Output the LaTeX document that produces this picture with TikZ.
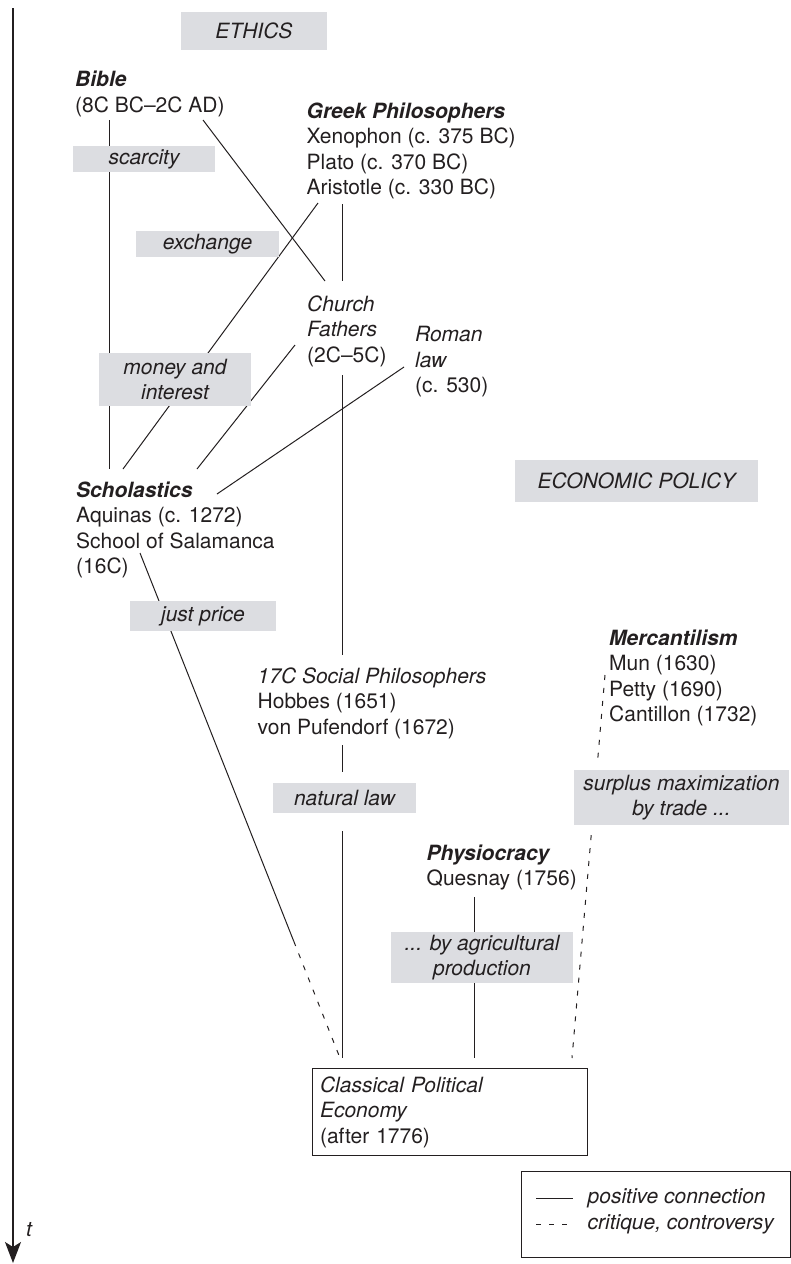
\documentclass[tikz,border=0pt]{standalone}
\usepackage{fontspec}
\setmainfont{TeX Gyre Heros}
\usetikzlibrary{arrows.meta,calc}
\definecolor{ink}{HTML}{231F20}
\definecolor{panel}{HTML}{DCDDE1}
% a block of left-aligned lines whose base is the first line's baseline
\newcommand\block[1]{\begin{tabular}[t]{@{}l@{}}#1\end{tabular}}
\newcommand\head[1]{\textbf{\textit{#1}}}
\begin{document}
\begin{tikzpicture}[x=1pt, y=-1pt,
  txt/.style={anchor=base west, inner sep=0, text=ink, font=\fontsize{21}{25.5}\selectfont},
  tag/.style={fill=panel, inner sep=0, align=center, text=ink, font=\fontsize{21}{25.5}\selectfont\itshape},
  link/.style={draw=ink, line width=1pt},
  crit/.style={link, dash pattern=on 5pt off 8pt},
  timeaxis/.style={draw=ink, line width=1.2pt, -{Stealth[length=21pt, width=16pt, inset=5pt]}}]
\useasboundingbox (0,0) rectangle (791,1264);

% ---- time axis
\coordinate (axtop) at (13,8);
\coordinate (axbot) at (13,1263);
\draw[timeaxis] (axtop) -- (axbot);
\node[txt] (tlabel) at (26,1236) {\textit{t}};

% ---- schools and authors
\node[txt] (bible) at (75,86.5) {\block{\head{Bible}\\(8C BC--2C AD)}};
\node[txt] (greek) at (306.5,118) {\block{\head{Greek Philosophers}\\Xenophon (c. 375 BC)\\Plato (c. 370 BC)\\Aristotle (c. 330 BC)}};
\node[txt] (church) at (307,311) {\block{\textit{Church}\\\textit{Fathers}\\(2C--5C)}};
\node[txt] (roman) at (415,341.5) {\block{\textit{Roman}\\\textit{law}\\(c. 530)}};
\node[txt] (schol) at (76,497) {\block{\head{Scholastics}\\Aquinas (c. 1272)\\School of Salamanca\\(16C)}};
\node[txt] (social) at (257.5,683) {\block{\textit{17C Social Philosophers}\\Hobbes (1651)\\von Pufendorf (1672)}};
\node[txt] (merc) at (609,645) {\block{\head{Mercantilism}\\Mun (1630)\\Petty (1690)\\Cantillon (1732)}};
\node[txt] (phys) at (426.5,860) {\block{\head{Physiocracy}\\Quesnay (1756)}};
\node[draw=ink, line width=1.1pt, anchor=north west, inner sep=0,
      minimum width=275, minimum height=87, text width=260, align=left,
      text=ink, font=\fontsize{21}{25.5}\selectfont] (classic) at (312,1068)
  {\textit{Classical Political}\\\textit{Economy}\\(after 1776)};

% ---- connector end points
\coordinate (bibleA) at (109,120);   \coordinate (scholA) at (109,469);
\coordinate (bibleB) at (203,120);   \coordinate (churchA) at (325,281);
\coordinate (aristA) at (318,203);   \coordinate (scholB) at (123,469);
\coordinate (greekA) at (342,204);   \coordinate (churchB) at (342,281);
\coordinate (churchC) at (295,345);  \coordinate (scholC) at (197,469);
\coordinate (romanA) at (404,367);   \coordinate (scholD) at (217,494);
\coordinate (churchD) at (342,375);  \coordinate (socialA) at (342,655);
\coordinate (scholE) at (140,553);   \coordinate (classA) at (340,1058);
\coordinate (socialB) at (342,745);  \coordinate (natA) at (342,772);
\coordinate (natB) at (342,831);     \coordinate (classB) at (342,1058);
\coordinate (physA) at (474.5,897);  \coordinate (classC) at (474.5,1058);
\coordinate (mercA) at (605,675);    \coordinate (classD) at (572,1058);
\coordinate (priceBreak) at ($(scholE)!0.769!(classA)$);
\coordinate (surplusA) at ($(mercA)!0.222!(classD)$);
\coordinate (surplusB) at ($(mercA)!0.418!(classD)$);

% ---- connectors
\draw[link] (bibleA) -- (scholA);
\draw[link] (bibleB) -- (churchA);
\draw[link] (aristA) -- (scholB);
\draw[link] (greekA) -- (churchB);
\draw[link] (churchC) -- (scholC);
\draw[link] (romanA) -- (scholD);
\draw[link] (churchD) -- (socialA);
\draw[link] (scholE) -- (priceBreak);
\draw[crit] (priceBreak) -- (classA);
\draw[link] (socialB) -- (natA);
\draw[link] (natB) -- (classB);
\draw[link] (physA) -- (classC);
\draw[crit] (mercA) -- (surplusA);
\draw[crit] (surplusB) -- (classD);

% ---- shaded topic labels
\node[tag, minimum width=146, minimum height=38] (ethics) at (254,31) {ETHICS};
\node[tag, minimum width=142, minimum height=26] (scarcity) at (144,159) {scarcity};
\node[tag, minimum width=143, minimum height=26] (exchange) at (207.5,243.7) {exchange};
\node[tag, minimum width=152, minimum height=53] (money) at (175,379.5) {money and\\interest};
\node[tag, minimum width=243, minimum height=42] (policy) at (636.5,481) {ECONOMIC POLICY};
\node[tag, minimum width=146, minimum height=30] (price) at (203,616) {just price};
\node[tag, minimum width=143, minimum height=30] (natlaw) at (344.5,798) {natural law};
\node[tag, minimum width=215, minimum height=55] (surplus) at (681.5,797.5) {surplus maximization\\by trade ...};
\node[tag, minimum width=182, minimum height=51] (agri) at (482,957.5) {... by agricultural\\production};

% ---- legend
\node[draw=ink, line width=1.1pt, anchor=north west, inner sep=0,
      minimum width=269, minimum height=86] (legend) at (521,1171) {};
\coordinate (keyA) at (536,1198);  \coordinate (keyB) at (573,1198);
\coordinate (keyC) at (536,1224);  \coordinate (keyD) at (573,1224);
\draw[link] (keyA) -- (keyB);
\draw[link, dash pattern=on 5pt off 8pt] (keyC) -- (keyD);
\node[txt] (keypos) at (587.5,1203.5) {\textit{positive connection}};
\node[txt] (keycrit) at (587.5,1229) {\textit{critique, controversy}};
\end{tikzpicture}
\end{document}
